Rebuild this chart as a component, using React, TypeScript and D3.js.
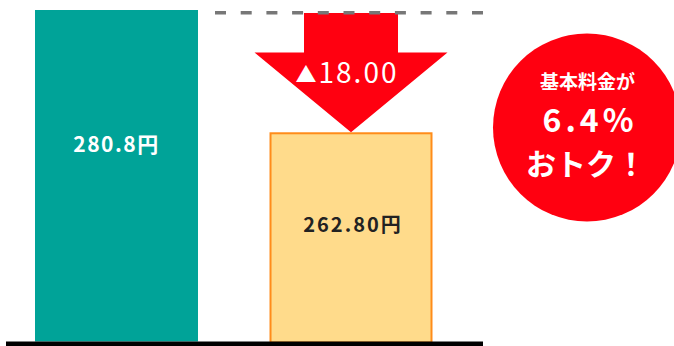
import React from "react";
import * as d3 from "d3";

const categories = ["現在", "新料金"];
const values = [280.8, 262.8];
const valueLabels = ["280.8円", "262.80円"];
const diffLabel = "18.00";
const badgeLines = ["基本料金が", "6.4%", "おトク！"];

const W = 674;
const H = 346;
const FONT = "'Noto Sans CJK JP', 'Noto Sans', sans-serif";

export default function App() {
  const x = d3
    .scaleBand<string>()
    .domain(categories)
    .range([35, 432.5])
    .paddingInner(0.305)
    .paddingOuter(0);
  const y = d3.scaleLinear().domain([232, 280.8]).range([341.5, 10]);
  const bw = x.bandwidth();

  const x0 = x(categories[0])!;
  const x1 = x(categories[1])!;
  const cx1 = x1 + bw / 2;
  const yTop = y(values[0]);
  const yNew = y(values[1]);

  const shaftHalf = 47;
  const headHalf = 96.5;
  const headY = 52.5;
  const arrowTop = yTop + 3;
  const arrowPath = [
    [cx1 - shaftHalf, arrowTop],
    [cx1 + shaftHalf, arrowTop],
    [cx1 + shaftHalf, headY],
    [cx1 + headHalf, headY],
    [cx1, yNew],
    [cx1 - headHalf, headY],
    [cx1 - shaftHalf, headY],
  ];
  const line = d3.line();

  return (
    <svg
      width={W}
      height={H}
      style={{ position: "absolute", left: 0, top: 0, display: "block" }}
    >
      <rect x={0} y={0} width={W} height={H} fill="#fff" />
      {/* bars */}
      <rect x={x0} y={yTop} width={bw} height={y(232) - yTop} fill="#00A398" />
      <rect
        x={x1 + 1}
        y={yNew + 1}
        width={bw - 2}
        height={y(232) - yNew}
        fill="#FFDB8B"
        stroke="#FF8C1A"
        strokeWidth={2}
      />
      {/* arrow */}
      <path d={line(arrowPath as [number, number][]) + "Z"} fill="#FF0010" />
      {/* dashed reference line */}
      <line
        x1={215}
        x2={483}
        y1={yTop + 2.7}
        y2={yTop + 2.7}
        stroke="#777"
        strokeWidth={3.5}
        strokeDasharray="11 14.7"
      />
      {/* baseline */}
      <rect x={6} y={y(232)} width={477} height={H - y(232)} fill="#000" />

      {/* labels */}
      <text
        x={x0 + bw / 2}
        y={151.5}
        textAnchor="middle"
        fill="#fff"
        fontFamily={FONT}
        fontWeight="bold"
        fontSize={21}
        letterSpacing={1.5}
      >
        {valueLabels[0]}
      </text>
      <text
        x={cx1 + 2}
        y={231.5}
        textAnchor="middle"
        fill="#222"
        fontFamily={FONT}
        fontWeight="bold"
        fontSize={20}
        letterSpacing={2}
      >
        {valueLabels[1]}
      </text>
      <text
        x={cx1 - 4}
        y={82.5}
        textAnchor="middle"
        fill="#fff"
        fontFamily={FONT}
        fontWeight="normal"
        fontSize={28}
        letterSpacing={2}
      >
        <tspan fontSize={21} dy={-1}>▲</tspan>
        <tspan dy={1}>{diffLabel}</tspan>
      </text>

      {/* badge */}
      <circle cx={587} cy={127.5} r={94} fill="#FF0010" />
      <text
        x={587.5}
        y={89}
        textAnchor="middle"
        fill="#fff"
        fontFamily={FONT}
        fontWeight="bold"
        fontSize={19}
      >
        {badgeLines[0]}
      </text>
      <text
        x={590}
        y={131.5}
        textAnchor="middle"
        fill="#fff"
        fontFamily={FONT}
        fontWeight="bold"
        fontSize={32}
        letterSpacing={4}
      >
        {badgeLines[1]}
      </text>
      <text
        x={586}
        y={175}
        textAnchor="middle"
        fill="#fff"
        fontFamily={FONT}
        fontWeight="bold"
        fontSize={30}
      >
        {badgeLines[2]}
      </text>
    </svg>
  );
}
